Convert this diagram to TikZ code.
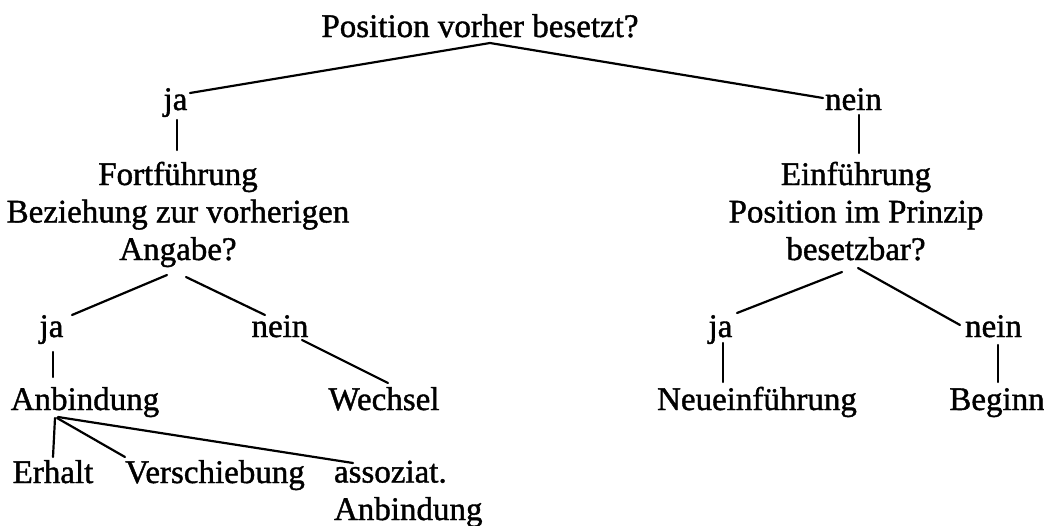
\documentclass[tikz,border=0pt]{standalone}
\usepackage{fontspec}
\setmainfont{Liberation Serif}[FakeBold=1.2]
\usetikzlibrary{calc}
\begin{document}
\begin{tikzpicture}[x=0.5pt,y=-0.5pt,
  lbl/.style={inner sep=0pt,outer sep=0pt,anchor=base,font=\fontsize{16.5}{18.75}\selectfont},
  mlbl/.style={lbl,align=center},
  edge/.style={line width=1.1pt,line cap=round}]
\useasboundingbox (0,0) rectangle (1044,525);
% nodes (multi-line nodes are placed at the baseline of their last line)
\node[lbl] (title) at (480,37) {Position vorher besetzt?};
\node[lbl] (ja1) at (175.5,110) {ja};
\node[lbl] (nein1) at (853.5,110) {nein};
\node[mlbl] (fort) at (178,260) {Fortführung\\Beziehung zur vorherigen\\Angabe?};
\node[mlbl] (ein) at (856,260) {Einführung\\Position im Prinzip\\besetzbar?};
\node[lbl] (ja2) at (51.5,337) {ja};
\node[lbl] (nein2) at (280,337) {nein};
\node[lbl] (ja3) at (720.5,337) {ja};
\node[lbl] (nein3) at (993.5,337) {nein};
\node[lbl] (anb) at (85,410) {Anbindung};
\node[lbl] (wech) at (384,410) {Wechsel};
\node[lbl] (neu) at (757,410) {Neueinführung};
\node[lbl] (beg) at (997,410) {Beginn};
\node[lbl] (erh) at (53,483) {Erhalt};
\node[lbl] (versch) at (215,483) {Verschiebung};
\node[lbl,align=left,anchor=base west] (asso) at (334,520) {assoziat.\\Anbindung};
% connectors
\draw[edge] ($(ja1.base)+(14.5,-17)$) -- ($(title.base)+(10,6)$) -- ($(nein1.base)+(-30.5,-12)$);
\draw[edge] ($(ja1.base)+(1.5,10)$) -- ($(fort.base)+(-1,-110)$);
\draw[edge] ($(nein1.base)+(5.5,5)$) -- ($(ein.base)+(3,-107)$);
\draw[edge] ($(fort.base)+(-11,15)$) -- ($(ja2.base)+(20.5,-22)$);
\draw[edge] ($(fort.base)+(8,17)$) -- ($(nein2.base)+(-15,-22)$);
\draw[edge] ($(ja2.base)+(1.5,15)$) -- ($(anb.base)+(-32,-33)$);
\draw[edge] ($(nein2.base)+(22,3)$) -- ($(wech.base)+(4,-27)$);
\draw[edge] ($(ein.base)+(-14,12)$) -- ($(ja3.base)+(16.5,-24)$);
\draw[edge] ($(ein.base)+(2,8)$) -- ($(nein3.base)+(-33.5,-12)$);
\draw[edge] ($(ja3.base)+(2.5,6)$) -- ($(neu.base)+(-34,-28)$);
\draw[edge] ($(nein3.base)+(4.5,8)$) -- ($(beg.base)+(1,-28)$);
\draw[edge] ($(anb.base)+(-30,8)$) -- ($(erh.base)+(0,-26)$);
\draw[edge] ($(anb.base)+(-28,8)$) -- ($(versch.base)+(-90,-26)$);
\draw[edge] ($(anb.base)+(-27,7)$) -- ($(asso.base west)+(19,-57)$);
\end{tikzpicture}
\end{document}
